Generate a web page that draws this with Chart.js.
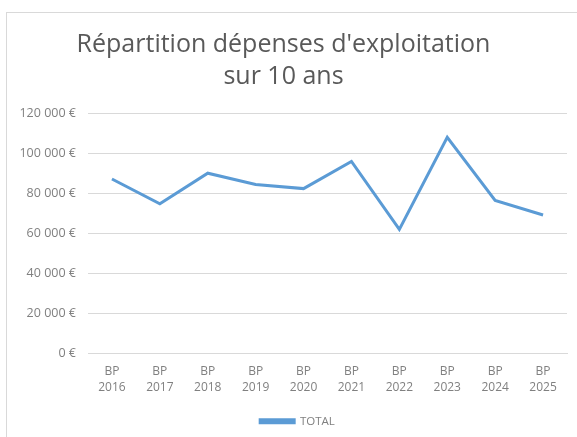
<!DOCTYPE html>
<html lang="fr">
<head>
<meta charset="UTF-8">
<title>Répartition dépenses d'exploitation</title>
<script src="https://cdn.jsdelivr.net/npm/chart.js"></script>
<style>
    body { margin: 0; background: #fff; }
    #wrap { position: relative; width: 577px; height: 437px; }
    #frame { position: absolute; left: 6px; top: 12px; right: -2px; bottom: -2px; border: 1px solid #d9d9d9; }
    #myChart { position: absolute; left: 0; top: 0; }
</style>
</head>
<body>
<div id="wrap">
    <div id="frame"></div>
    <canvas id="myChart" width="577" height="437"></canvas>
</div>
<script>
    const years = ['2016', '2017', '2018', '2019', '2020', '2021', '2022', '2023', '2024', '2025'];
    const labels = years.map(y => ['BP', y]);
    const totalValues = [87000, 74600, 89900, 84300, 82200, 95800, 61800, 107800, 76300, 69000];
    const yTicks = [0, 20000, 40000, 60000, 80000, 100000, 120000];

    const grey = '#808080';
    const fontStack = "'Open Sans', 'Noto Sans', sans-serif";

    const fmtEuro = (v) => v.toString().replace(/\B(?=(\d{3})+(?!\d))/g, ' ') + ' €';

    // nudge the legend a bit to the right, like the original
    const shiftLegend = {
        id: 'shiftLegend',
        afterLayout(chart) {
            chart.legend.left += 14;
            chart.legend.right += 14;
        }
    };

    new Chart(document.getElementById('myChart').getContext('2d'), {
        type: 'line',
        data: {
            labels: labels,
            datasets: [{
                label: 'TOTAL',
                data: totalValues,
                borderColor: '#5b9bd5',
                backgroundColor: '#5b9bd5',
                borderWidth: 3,
                pointRadius: 0,
                tension: 0
            }]
        },
        options: {
            responsive: false,
            animation: false,
            layout: { padding: { left: 0, right: 10, top: 14, bottom: 0 } },
            plugins: {
                title: {
                    display: true,
                    text: ["Répartition dépenses d'exploitation", 'sur 10 ans'],
                    color: '#595959',
                    font: { family: fontStack, size: 25, weight: 'normal', lineHeight: 1.28 },
                    padding: { top: 15, bottom: 20 }
                },
                legend: {
                    position: 'bottom',
                    labels: {
                        boxWidth: 34,
                        boxHeight: 3,
                        color: grey,
                        font: { family: fontStack, size: 11.5 },
                        padding: 12
                    }
                },
                tooltip: { enabled: false }
            },
            scales: {
                x: {
                    offset: true,
                    grid: { display: false, drawTicks: false },
                    border: { color: '#d9d9d9' },
                    afterFit: (axis) => { axis.height = 50.5; },
                    ticks: {
                        color: grey,
                        font: { family: fontStack, size: 12, lineHeight: 1.33 },
                        maxRotation: 0,
                        padding: 11
                    }
                },
                y: {
                    min: 0,
                    max: 120000,
                    afterBuildTicks: (axis) => { axis.ticks = yTicks.map(v => ({ value: v })); },
                    afterFit: (axis) => { axis.width = 88; },
                    grid: { color: '#d9d9d9', drawTicks: false },
                    border: { display: false },
                    ticks: {
                        color: grey,
                        font: { family: fontStack, size: 12.5 },
                        padding: 12,
                        callback: (v) => fmtEuro(v)
                    }
                }
            }
        },
        plugins: [shiftLegend]
    });
</script>
</body>
</html>
